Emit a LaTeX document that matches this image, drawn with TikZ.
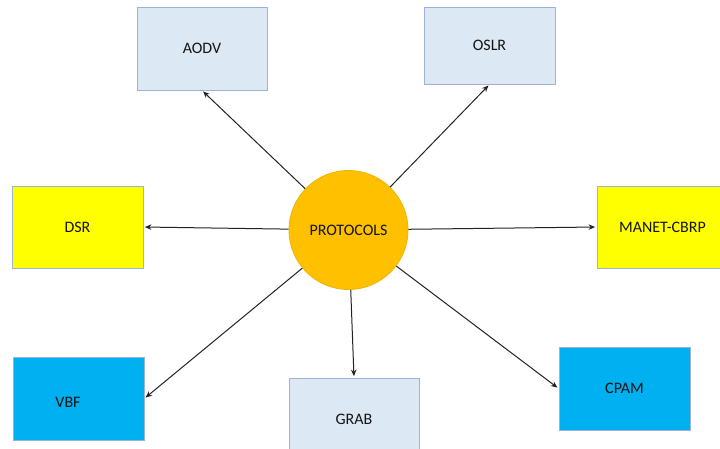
\documentclass[tikz,border=0pt]{standalone}
\usepackage{fontspec}
\setmainfont{Carlito}
\usetikzlibrary{arrows.meta}
\definecolor{paleblue}{HTML}{DDE8F5}
\definecolor{edgeblue}{HTML}{9DB4D8}
\definecolor{brightyellow}{HTML}{FFFF00}
\definecolor{skyblue}{HTML}{00B0F0}
\definecolor{amber}{HTML}{FFC000}
\definecolor{amberedge}{HTML}{EDB400}
\definecolor{inkgray}{HTML}{141414}
\definecolor{linegray}{HTML}{222222}
\tikzset{
  x=1pt, y=-1pt,
  every node/.style={font=\fontsize{16}{19}\selectfont, text=inkgray},
  box/.style={draw=edgeblue, line width=0.8pt, minimum width=131pt, minimum height=82pt, inner sep=0pt},
  softbox/.style={box, fill=paleblue},
  yellowbox/.style={box, fill=brightyellow},
  cyanbox/.style={box, fill=skyblue},
  hub/.style={circle, fill=amber, draw=amberedge, line width=0.8pt, minimum size=119pt, inner sep=0pt},
  link/.style={draw=linegray, line width=1pt, -{Stealth[length=6.5pt,width=5.5pt]}, shorten >=1.5pt}
}
\begin{document}
\begin{tikzpicture}
\useasboundingbox (0,0) rectangle (720,448);
\begin{scope}
\clip (0,0) rectangle (720,448);

% protocol boxes
\node[softbox, minimum width=130pt, minimum height=83pt] (aodv) at (202,48.5) {AODV};
\node[softbox, minimum height=77pt] (oslr) at (489.5,45.5) {OSLR};
\node[yellowbox] (dsr) at (77.5,227) {DSR};
\node[yellowbox] (manet) at (662.5,227) {MANET-CBRP};
\node[cyanbox, minimum height=83pt] (vbf) at (78.5,398.5) {};
\node (vbftext) at (68,402) {VBF};
\node[softbox, minimum width=130pt] (grab) at (354,419) {GRAB};
\node[cyanbox, minimum height=83pt] (cpam) at (624.5,388.5) {CPAM};

% central hub
\node[hub] (hub) at (348.5,230) {PROTOCOLS};

% connectors from the hub to each protocol
\draw[link] (hub) -- (aodv.south);
\draw[link] (hub) -- (oslr.south);
\draw[link] (hub) -- (dsr.east);
\draw[link] (hub) -- (manet.west);
\draw[link] (hub) -- (vbf.east);
\draw[link] (hub) -- (grab.north);
\draw[link] (hub) -- (cpam.west);
\end{scope}
\end{tikzpicture}
\end{document}
